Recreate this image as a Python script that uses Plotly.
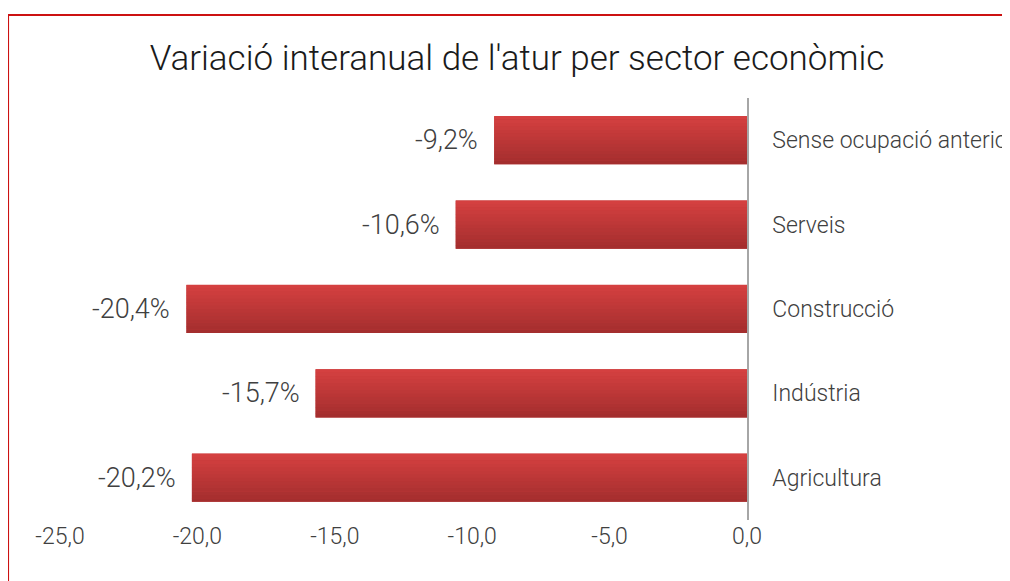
import plotly.graph_objects as go

# Data (bottom to top in plot order)
categories = ["Agricultura", "Indústria", "Construcció", "Serveis", "Sense ocupació anterior"]
values = [-20.2, -15.7, -20.4, -10.6, -9.2]
tick_values = [-25, -20, -15, -10, -5, 0]
tick_labels = ["-25,0", "-20,0", "-15,0", "-10,0", "-5,0", "0,0"]
title_text = "Variació interanual de l'atur per sector econòmic"

FONT = "Roboto"
TXT = "#404040"
BAR_W = 0.57
N_SLICES = 14
top_rgb = (212, 64, 64)
bot_rgb = (164, 46, 46)

fig = go.Figure()

# base bar (carries hover, drawn under gradient)
fig.add_trace(go.Bar(
    x=values, y=categories, orientation="h", width=BAR_W,
    marker=dict(color="rgb(190,56,56)", line=dict(width=0)),
    showlegend=False, hoverinfo="x+y",
))

# gradient slices, bottom (dark) to top (light)
for k in range(N_SLICES):
    t = k / (N_SLICES - 1)
    c = tuple(round(b + (tp - b) * t) for b, tp in zip(bot_rgb, top_rgb))
    fig.add_trace(go.Bar(
        x=values, y=categories, orientation="h",
        width=BAR_W / N_SLICES + 0.002,
        offset=-BAR_W / 2 + k * BAR_W / N_SLICES,
        marker=dict(color="rgb(%d,%d,%d)" % c, line=dict(width=0)),
        showlegend=False, hoverinfo="skip",
    ))

# data labels
for v, c in zip(values, categories):
    fig.add_annotation(
        x=v, y=c, xref="x", yref="y", xanchor="right", yanchor="middle",
        xshift=-14, showarrow=False,
        text=("%.1f%%" % v).replace(".", ","),
        font=dict(family=FONT, size=27, color=TXT, weight=300),
    )

# outer red border
fig.add_shape(type="rect", xref="paper", yref="paper",
              x0=-0.0756, x1=1.45, y0=-0.2, y1=1.1967,
              line=dict(color="#cc1111", width=2), fillcolor="rgba(0,0,0,0)",
              layer="above")

fig.update_layout(
    width=1002, height=573,
    margin=dict(l=52, r=262.5, t=90, b=61, autoexpand=False),
    paper_bgcolor="white", plot_bgcolor="white",
    barmode="overlay",
    title=dict(text=title_text, x=0.508, xanchor="center", y=1 - 50 / 573, yanchor="middle",
               font=dict(family=FONT, size=35, color="#1a1a1a", weight=300)),
    xaxis=dict(range=[-25, 0], tickvals=tick_values, ticktext=tick_labels,
               showgrid=False, zeroline=False, showline=False, ticks="",
               automargin=False,
               tickfont=dict(family=FONT, size=23, color=TXT, weight=300),
               fixedrange=True),
    yaxis=dict(side="right", categoryorder="array", categoryarray=categories,
               showline=True, linecolor="#a6a6a6", linewidth=1.5,
               showgrid=False, zeroline=False, ticks="", ticklabelstandoff=19,
               automargin=False,
               tickfont=dict(family=FONT, size=23, color=TXT, weight=300),
               fixedrange=True),
)

fig.write_html("out.html")
